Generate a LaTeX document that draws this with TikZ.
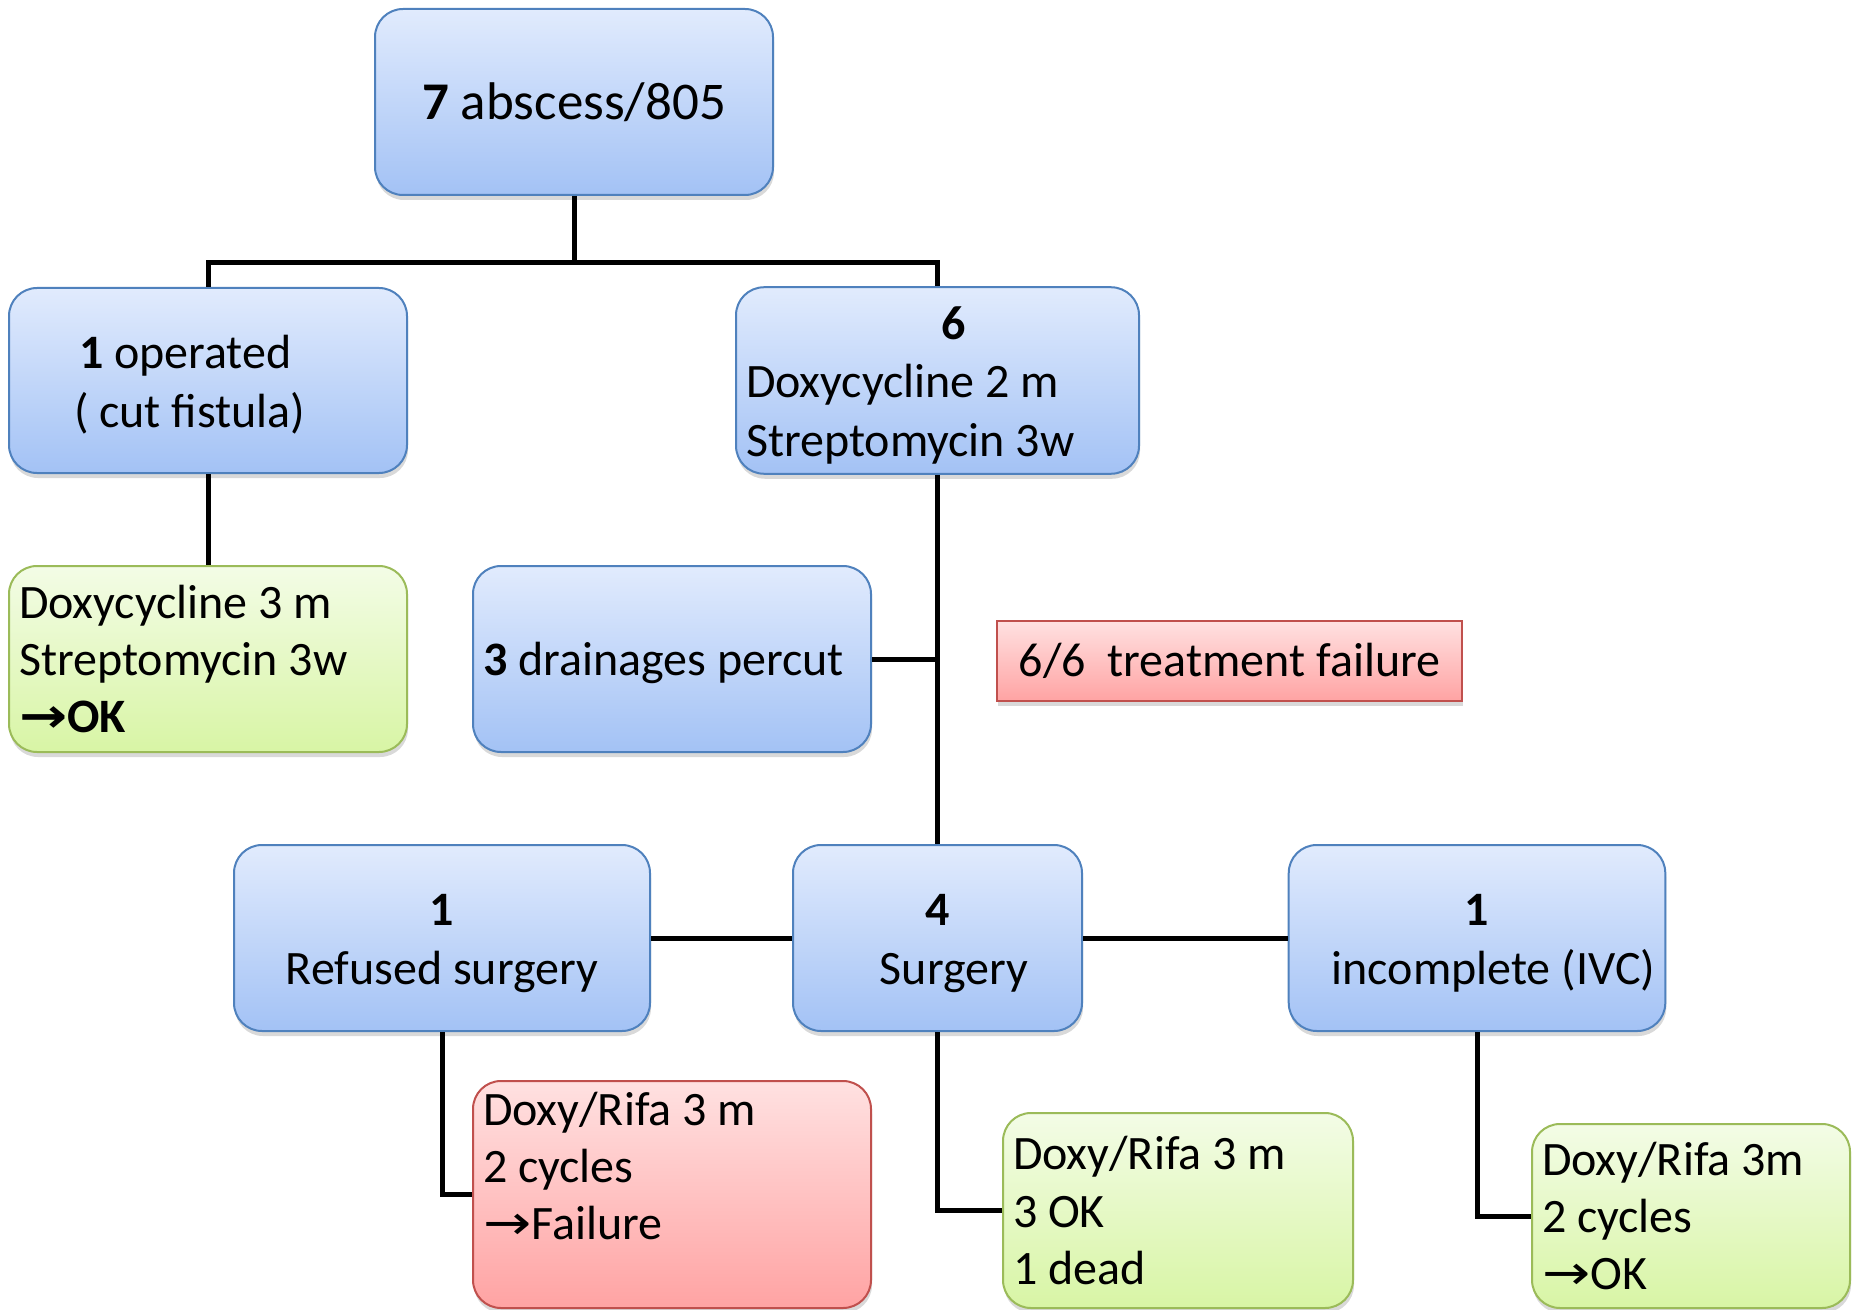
\documentclass[tikz,border=0pt]{standalone}
\usepackage{fontspec}
\setmainfont{Carlito}
\newfontfamily\arrowfont{DejaVu Sans}
\usetikzlibrary{shadows}
\definecolor{bluetop}{HTML}{E1EBFD}
\definecolor{bluebot}{HTML}{A3C2F5}
\definecolor{blueedge}{HTML}{4F81BD}
\definecolor{greentop}{HTML}{F3FCE6}
\definecolor{greenbot}{HTML}{D8F5A5}
\definecolor{greenedge}{HTML}{9BBB59}
\definecolor{redtop}{HTML}{FFE1E1}
\definecolor{redbot}{HTML}{FFA3A3}
\definecolor{rededge}{HTML}{C0504D}
\begin{document}
\begin{tikzpicture}[x=0.5pt,y=-0.5pt,box/.style={shape=rectangle,rounded corners=14pt,line width=1pt,inner sep=5pt,drop shadow={shadow xshift=0.5pt,shadow yshift=-2.5pt,opacity=0.3},font=\fontsize{24}{28.7}\selectfont},boxB/.style={box,draw=blueedge,top color=bluetop,bottom color=bluebot,align=center,font=\fontsize{24}{29.2}\selectfont},boxG/.style={box,draw=greenedge,top color=greentop,bottom color=greenbot,align=flush left},boxR/.style={box,draw=rededge,top color=redtop,bottom color=redbot,align=flush left},tagR/.style={boxR,sharp corners,align=center},link/.style={line width=2.5pt}]
\def\ya{102};
\def\yb{380.5};
\def\yc{659};
\def\yd{938};
\def\xl{208};
\def\xm{937.5};
\def\boxstrut{\rule[-4pt]{0pt}{25pt}}
\def\arr{\scalebox{1.2}[1]{\arrowfont →}}

\useasboundingbox (0,0) rectangle (1856,1310);

\node[boxB,minimum width=199pt,minimum height=93pt,font=\fontsize{26.5}{32}\selectfont] (abscess) at (574,\ya) {\textbf{7} abscess/805};

\node[boxB,align=flush left,text width=189pt,minimum height=92.5pt] (operated) at (\xl,\yb) {\boxstrut\hspace*{30pt}\textbf{1} operated\\\hspace*{27.5pt}( cut fistula)};
\node[boxB,align=flush left,text width=191.5pt,minimum height=92.5pt] (six) at (\xm,\yb) {\boxstrut\hspace*{97.5pt}\textbf{6}\\Doxycycline 2 m\\Streptomycin 3w};
\coordinate (split) at (574,263);
\draw[link] (abscess.south) -- (split);
\draw[link] (operated.north) |- (split) -| (six.north);

\node[boxG,text width=189pt,minimum height=93pt] (okA) at (\xl,\yc) {Doxycycline 3 m\\Streptomycin 3w\\{\bfseries\arr}\textbf{OK}};
\draw[link] (operated.south) -- (okA.north);
\node[boxB,align=flush left,text width=189pt,minimum height=93pt] (drain) at (672,\yc) {\boxstrut\textbf{3} drainages percut};
\node[tagR,minimum width=232.5pt,minimum height=40pt] (failure) at (1229.5,661) {6/6\ \ treatment failure};

\node[boxB,minimum width=208pt,minimum height=93pt] (refused) at (442,\yd) {\boxstrut\textbf{1}\\Refused surgery};
\node[boxB,minimum width=144.5pt,minimum height=93pt] (surgery) at (\xm,\yd) {\boxstrut\textbf{4}\\\hspace*{16.5pt}Surgery};
\node[boxB,minimum width=188pt,minimum height=93pt] (incomplete) at (1477,\yd) {\boxstrut\textbf{1}\\\hspace*{16.5pt}incomplete (IVC)};
\draw[link] (six.south) -- (surgery.north);
\draw[link] (drain.east) -- (drain.east -| surgery.north);
\draw[link] (refused.east) -- (surgery.west);
\draw[link] (surgery.east) -- (incomplete.west);

\node[boxR,text width=189pt,minimum height=113.5pt] (rifaA) at (672,1194.5) {Doxy/Rifa 3 m\\2 cycles\\\arr Failure\\\mbox{}};
\draw[link] (refused.south) |- (rifaA.west);
\node[boxG,text width=165pt,minimum height=97.5pt] (rifaB) at (1178,1210.5) {Doxy/Rifa 3 m\\3 OK\\1 dead};
\draw[link] (surgery.south) |- (rifaB.west);
\node[boxG,text width=149pt,minimum height=92pt] (rifaC) at (1691,1216) {Doxy/Rifa 3m\\2 cycles\\\arr OK};
\draw[link] (incomplete.south) |- (rifaC.west);
\end{tikzpicture}
\end{document}
